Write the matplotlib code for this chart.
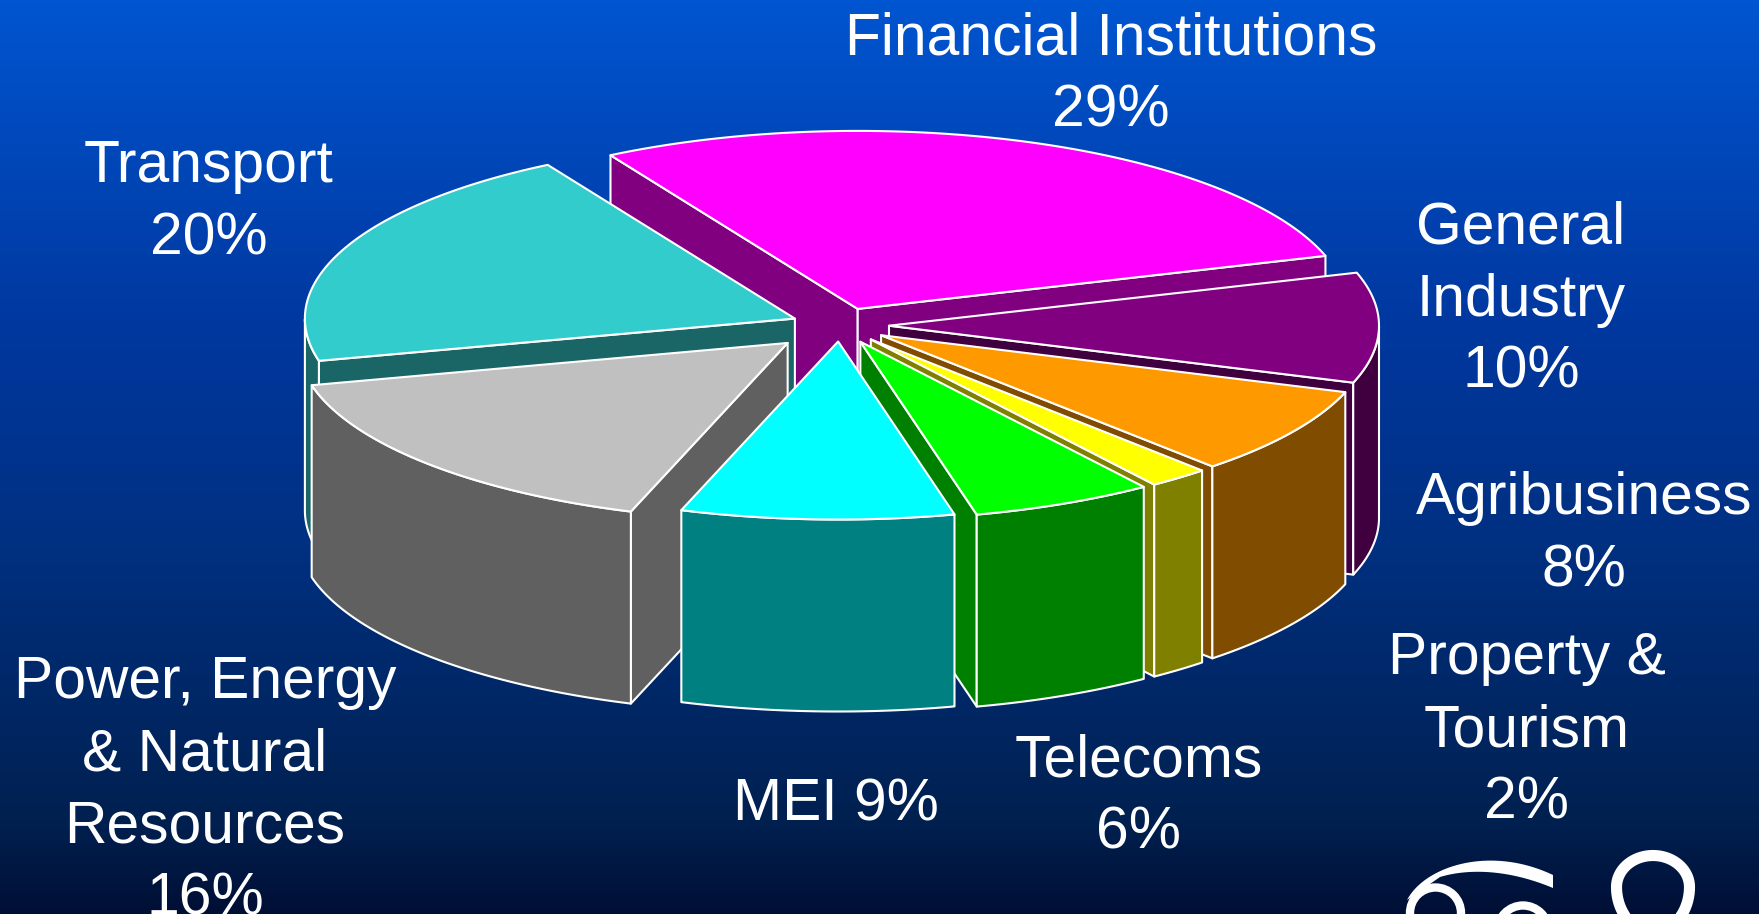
import numpy as np
import matplotlib
matplotlib.use('Agg')
import matplotlib.pyplot as plt
from matplotlib.colors import LinearSegmentedColormap
from matplotlib.patches import Polygon, Circle

plt.rcParams['font.family'] = ['Liberation Sans', 'DejaVu Sans']

sectors = ['Financial Institutions', 'General Industry', 'Agribusiness', 'Property & Tourism',
           'Telecoms', 'MEI', 'Power, Energy & Natural Resources', 'Transport']
# labels show them rounded
shares = [28.6, 10, 8, 2, 6, 9, 16, 20.4]
label_text = ['Financial Institutions\n29%', 'General\nIndustry\n10%', 'Agribusiness\n8%',
              'Property &\nTourism\n2%', 'Telecoms\n6%', 'MEI 9%',
              'Power, Energy\n& Natural\nResources\n16%', 'Transport\n20%']

top_colors = ['#FF00FF', '#800080', '#FF9900', '#FFFF00', '#00FF00', '#00FFFF', '#C0C0C0', '#33CCCC']
side_colors = ['#800080', '#400040', '#804C00', '#808000', '#008000', '#008080', '#606060', '#1A6666']
explode = [0.10, 0.10, 0.10, 0.10, 0.10, 0.09, 0.145, 0.10]
label_pos = [(1111, 75), (1521, 300), (1584, 535), (1527, 731), (1139, 797), (836, 805), (205, 791), (209, 203)]

cx, cy = 840, 325.5
rx, ry = 490, 178
depth = 192
start = 120.3

fig = plt.figure(figsize=(17.59, 9.14), dpi=100)
ax = fig.add_axes([0, 0, 1, 1])
ax.set_xlim(0, 1759)
ax.set_ylim(914, 0)
ax.axis('off')

bg = LinearSegmentedColormap.from_list('bg', [(0, '#0055D0'), (0.35, '#0038A0'), (0.6, '#003080'),
                                              (0.9, '#002050'), (1, '#000F35')])
ax.imshow(np.linspace(0, 1, 914).reshape(-1, 1), cmap=bg, extent=(0, 1759, 914, 0), aspect='auto', zorder=0)


def pt(t, ox, oy, dz=0):
    t = np.radians(t)
    return np.column_stack([ox + cx + rx * np.cos(t), oy + cy - ry * np.sin(t) + dz])


def bezier(p0, p1, p2, p3, n=40):
    u = np.linspace(0, 1, n)[:, None]
    p0, p1, p2, p3 = map(np.array, (p0, p1, p2, p3))
    return (1 - u) ** 3 * p0 + 3 * (1 - u) ** 2 * u * p1 + 3 * (1 - u) * u ** 2 * p2 + u ** 3 * p3


# work out the slice angles from the shares
slices = []
a = start
for i, s in enumerate(shares):
    span = s / sum(shares) * 360
    t0, t1 = a, a - span
    mid = (t0 + t1) / 2
    ox = explode[i] * rx * np.cos(np.radians(mid))
    oy = -explode[i] * ry * np.sin(np.radians(mid))
    slices.append((np.sin(np.radians(mid)), i, t0, t1, ox, oy))
    a = t1

# back to front
slices.sort(key=lambda x: -x[0])
edge = dict(edgecolor='white', linewidth=1.5, joinstyle='round', zorder=2)
for _, i, t0, t1, ox, oy in slices:
    apex = np.array([[ox + cx, oy + cy]])
    for t, visible in ((t0, np.cos(np.radians(t0)) < 0), (t1, np.cos(np.radians(t1)) > 0)):
        if visible:
            p = pt(np.array([t]), ox, oy)
            q = pt(np.array([t]), ox, oy, depth)
            ax.add_patch(Polygon(np.vstack([apex, p, q, apex + [0, depth]]), facecolor=side_colors[i], **edge))
    ts = np.linspace(t1, t0, 240)
    ts = ts[np.sin(np.radians(ts)) <= 0]
    if len(ts) > 1:
        ax.add_patch(Polygon(np.vstack([pt(ts, ox, oy), pt(ts[::-1], ox, oy, depth)]),
                             facecolor=side_colors[i], **edge))
    arc = pt(np.linspace(t0, t1, 240), ox, oy)
    ax.add_patch(Polygon(np.vstack([apex, arc]), facecolor=top_colors[i], **edge))

for txt, (x, y) in zip(label_text, label_pos):
    ax.text(x, y, txt, color='white', fontsize=42.3, ha='center', va='center', linespacing=1.4, zorder=3)

# logo cut off by the bottom edge
outer = bezier((1407, 900), (1425, 866), (1490, 845), (1553, 875))
inner = bezier((1553, 888), (1510, 870), (1470, 868), (1440, 877))
ax.add_patch(Polygon(np.vstack([outer, inner]), facecolor='white', edgecolor='none', zorder=3))
ax.add_patch(Circle((1435.5, 913), 25.5, facecolor='none', edgecolor='white', lw=6, zorder=3))
ax.add_patch(Circle((1523, 931), 25.5, facecolor='none', edgecolor='white', lw=6, zorder=3))
loop_t = np.radians(np.linspace(-90, 270, 160))
loop_y = 887 - np.where(np.sin(loop_t) > 0, 31.5, 45) * np.sin(loop_t)
ax.plot(1653 + 36.5 * np.cos(loop_t), loop_y, color='white', lw=8, zorder=3)

fig.savefig('out.png', dpi=100)
